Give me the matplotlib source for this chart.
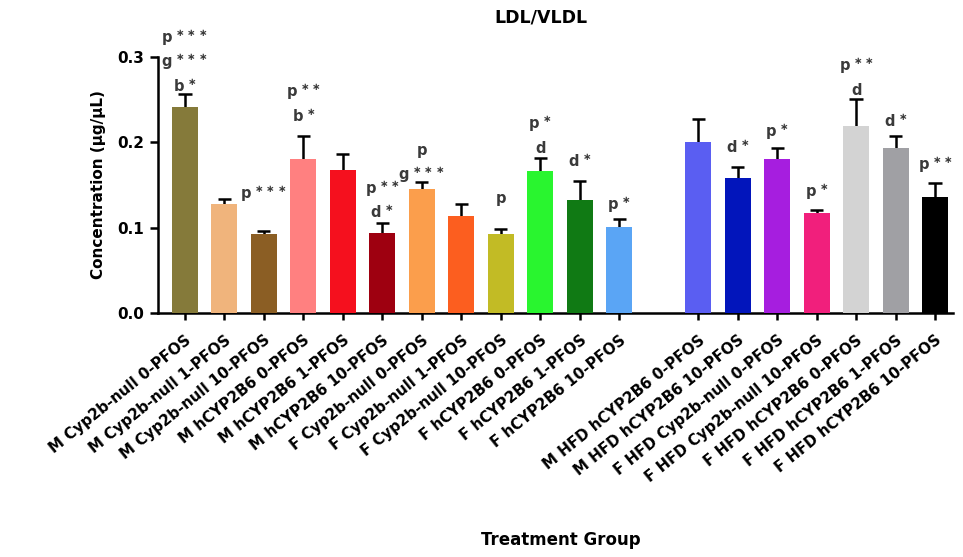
import numpy as np
import matplotlib
matplotlib.use("Agg")
import matplotlib.pyplot as plt

plt.rcParams['font.family'] = ['DejaVu Sans']
plt.rcParams['font.weight'] = 'bold'
plt.rcParams['mathtext.default'] = 'bf'

# treatment groups (empty slot between the chow and HFD groups)
groups = ["M Cyp2b-null 0-PFOS", "M Cyp2b-null 1-PFOS", "M Cyp2b-null 10-PFOS",
          "M hCYP2B6 0-PFOS", "M hCYP2B6 1-PFOS", "M hCYP2B6 10-PFOS",
          "F Cyp2b-null 0-PFOS", "F Cyp2b-null 1-PFOS", "F Cyp2b-null 10-PFOS",
          "F hCYP2B6 0-PFOS", "F hCYP2B6 1-PFOS", "F hCYP2B6 10-PFOS",
          "M HFD hCYP2B6 0-PFOS", "M HFD hCYP2B6 10-PFOS", "F HFD Cyp2b-null 0-PFOS",
          "F HFD Cyp2b-null 10-PFOS", "F HFD hCYP2B6 0-PFOS", "F HFD hCYP2B6 1-PFOS",
          "F HFD hCYP2B6 10-PFOS"]
slots = [0, 1, 2, 3, 4, 5, 6, 7, 8, 9, 10, 11, 13, 14, 15, 16, 17, 18, 19]

mean = [0.241, 0.128, 0.092, 0.180, 0.167, 0.094, 0.145, 0.114, 0.092, 0.166, 0.132, 0.101,
        0.200, 0.158, 0.180, 0.117, 0.219, 0.193, 0.136]
sem = [0.016, 0.005, 0.004, 0.027, 0.019, 0.011, 0.008, 0.014, 0.006, 0.015, 0.023, 0.009,
       0.027, 0.013, 0.013, 0.004, 0.032, 0.014, 0.016]

colors = ["#857a3a", "#f0b47c", "#8b5e24", "#ff8080", "#f5101e", "#9e0010",
          "#fb9e4c", "#fc5e1f", "#c2bb25", "#29f52f", "#107a14", "#5aa5f5",
          "#5a5ef2", "#0215bb", "#a61edf", "#f11f7c", "#d3d3d3", "#a0a0a4", "#000000"]

# significance letters, listed from the bottom line upward
sig = [["b*", "g***", "p***"], [], ["p***"], ["b*", "p**"], [], ["d*", "p**"],
       ["g***", "p"], [], ["p"], ["d", "p*"], ["d*"], ["p*"],
       [], ["d*"], ["p*"], ["p*"], ["d", "p**"], ["d*"], ["p**"]]
# gap between error cap and first letter line
sig_gap = [0.002, 0, 0.038, 0.017, 0, 0.006, 0.003, 0, 0.031, 0.006, 0.016, 0.011,
           0, 0.016, 0.013, 0.015, 0.004, 0.011, 0.015]


def fmt(s):
    letter = s.rstrip("*")
    stars = s[len(letter):]
    if stars:
        return letter + r"$^{\,\," + r"\;".join([r"{\ast}"] * len(stars)) + "}$"
    return letter


fig = plt.figure(figsize=(9.63, 5.57), dpi=100)
ax = fig.add_axes([0.164, 0.438, 0.826, 0.46])

x = np.array(slots, dtype=float)
mean = np.array(mean)
sem = np.array(sem)
top = mean + sem

ax.bar(x, mean, width=0.66, color=colors, zorder=3)
ax.vlines(x, mean, top, color="black", lw=1.8, zorder=2)
ax.hlines(top, x - 0.17, x + 0.17, color="black", lw=1.8, zorder=2)

for xi, t, labs, g in zip(x, top, sig, sig_gap):
    for k, lab in enumerate(labs):
        ax.text(xi, t + g + 0.0285 * k, fmt(lab), ha="center", va="baseline",
                fontsize=10.5, color="#3a3a3a", clip_on=False)

ax.set_xlim(-0.68, 19.46)
ax.set_ylim(0, 0.3)
ax.set_yticks([0.0, 0.1, 0.2, 0.3])
ax.set_yticklabels(["0.0", "0.1", "0.2", "0.3"], fontsize=11, fontweight="bold")
ax.set_xticks(x)
ax.set_xticklabels(groups, rotation=39, ha="right", rotation_mode="anchor",
                   fontsize=10.8, fontweight="bold")
ax.tick_params(axis="x", length=5, width=1.8, pad=9)
ax.tick_params(axis="y", length=6, width=1.8, pad=4)
for side in ["top", "right"]:
    ax.spines[side].set_visible(False)
for side in ["left", "bottom"]:
    ax.spines[side].set_linewidth(1.8)

ax.set_ylabel("Concentration (µg/µL)", fontsize=11, fontweight="bold", labelpad=8)
fig.text(0.562, 0.968, "LDL/VLDL", ha="center", va="center", fontsize=12.5, fontweight="bold")
fig.text(0.582, 0.03, "Treatment Group", ha="center", va="center", fontsize=12,
         fontweight="bold")

fig.savefig("out.png", dpi=100)
